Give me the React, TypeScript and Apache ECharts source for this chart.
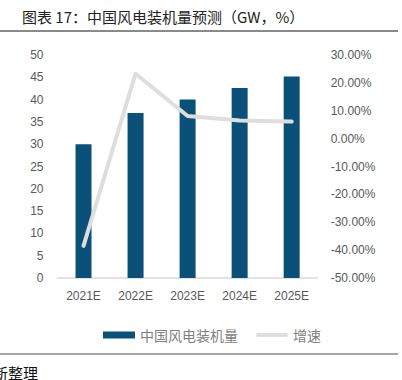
import React, { useEffect, useRef } from "react";
import * as echarts from "echarts";

const categories = ["2021E", "2022E", "2023E", "2024E", "2025E"];
const capacity = [30, 37, 40, 42.6, 45.2];
const growth = [-38.5, 23.3, 8.1, 6.5, 6.1];
const leftTicks = { min: 0, max: 50, interval: 5 };
const rightTicks = { min: -50, max: 30, interval: 10 };

export default function App() {
  const ref = useRef<HTMLDivElement>(null);
  useEffect(() => {
    if (!ref.current) return;
    const chart = echarts.init(ref.current, null, { renderer: "svg" });
    const labelFont = "'Liberation Sans', 'Noto Sans', sans-serif";
    chart.setOption({
      animation: false,
      backgroundColor: "#ffffff",
      grid: { left: 57.5, right: 84.3, top: 55, bottom: 102, containLabel: false },
      legend: {
        left: 98,
        top: 323,
        itemWidth: 32,
        itemHeight: 7,
        itemGap: 18,
        textStyle: { color: "#808080", fontSize: 14, fontFamily: "'Noto Sans CJK SC', sans-serif" },
        data: [
          { name: "中国风电装机量", icon: "rect" },
          {
            name: "增速",
            icon: "path://M0,0 M32,7 M2,1.5 L30,1.5 A2,2 0 0 1 30,5.5 L2,5.5 A2,2 0 0 1 2,1.5 Z",
          },
        ],
      },
      xAxis: {
        type: "category",
        data: categories,
        axisLine: { lineStyle: { color: "#d9d9d9", width: 1.5 } },
        axisTick: { show: false },
        axisLabel: { color: "#595959", fontSize: 12, margin: 12, fontFamily: labelFont },
      },
      yAxis: [
        {
          type: "value",
          min: leftTicks.min,
          max: leftTicks.max,
          interval: leftTicks.interval,
          axisLine: { show: false },
          axisTick: { show: false },
          splitLine: { show: false },
          axisLabel: { color: "#595959", fontSize: 12, margin: 14, fontFamily: labelFont },
        },
        {
          type: "value",
          min: rightTicks.min,
          max: rightTicks.max,
          interval: rightTicks.interval,
          position: "right",
          axisLine: { show: false },
          axisTick: { show: false },
          splitLine: { show: false },
          axisLabel: {
            color: "#595959",
            fontSize: 12,
            margin: 13,
            fontFamily: labelFont,
            formatter: (v: number) => v.toFixed(2) + "%",
          },
        },
      ],
      series: [
        {
          name: "中国风电装机量",
          type: "bar",
          data: capacity,
          barWidth: 16,
          itemStyle: { color: "#0B5078" },
          yAxisIndex: 0,
        },
        {
          name: "增速",
          type: "line",
          data: growth,
          yAxisIndex: 1,
          symbol: "none",
          itemStyle: { color: "#dedede" },
          lineStyle: { color: "#dedede", width: 4, cap: "round", join: "round" },
        },
      ],
      graphic: [
        {
          type: "text",
          left: 22,
          top: 9,
          style: {
            text: "图表 17：中国风电装机量预测（GW，%）",
            fill: "#222222",
            fontSize: 15,
            fontFamily: "'Noto Sans CJK SC', sans-serif",
          },
        },
        {
          type: "line",
          shape: { x1: 0, y1: 31, x2: 398, y2: 31 },
          style: { stroke: "#8a8a8a", lineWidth: 2 },
        },
        {
          type: "line",
          shape: { x1: 0, y1: 354, x2: 398, y2: 354 },
          style: { stroke: "#8a8a8a", lineWidth: 1.5 },
        },
        {
          type: "text",
          x: -7,
          y: 365,
          style: {
            text: "新整理",
            fill: "#111111",
            fontSize: 15,
            fontFamily: "'Noto Sans CJK SC', sans-serif",
          },
        },
      ],
    });
    return () => chart.dispose();
  }, []);
  return (
    <div
      ref={ref}
      style={{ position: "fixed", left: 0, top: 0, width: 402, height: 380, background: "#fff" }}
    />
  );
}
